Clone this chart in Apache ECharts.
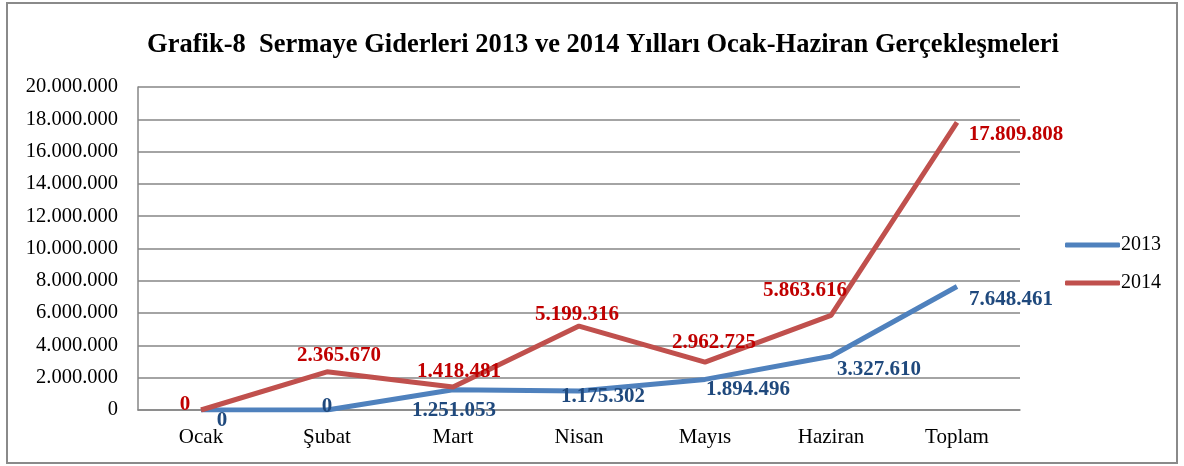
<!DOCTYPE html>
<html>
<head>
<meta charset="utf-8">
<script src="https://cdn.jsdelivr.net/npm/echarts@6/dist/echarts.min.js"></script>
<style>
html,body{margin:0;padding:0;background:#fff;}
#c{width:1184px;height:466px;}
</style>
</head>
<body>
<div id="c"></div>
<script>
const categories = ['Ocak', 'Şubat', 'Mart', 'Nisan', 'Mayıs', 'Haziran', 'Toplam'];
const values2013 = [0, 0, 1251053, 1175302, 1894496, 3327610, 7648461];
const values2014 = [0, 2365670, 1418481, 5199316, 2962725, 5863616, 17809808];
const seriesNames = ['2013', '2014'];
const titleText = 'Grafik-8  Sermaye Giderleri 2013 ve 2014 Yılları Ocak-Haziran Gerçekleşmeleri';

// label offsets (layout only)
const off2013 = [[21, 11], [0, -3], [1, 21], [24, 6], [43, 10], [48, 13], [54, 13]];
const off2014 = [[-16, -5], [12, -16], [6, -16], [-2, -11], [9, -20], [-26, -25], [59, 12]];

const FONT = "'Liberation Serif','Times New Roman',serif";
function fmt(v) {
  return String(Math.round(v)).replace(/\B(?=(\d{3})+(?!\d))/g, '.');
}
function buildData(vals, offs, color) {
  return vals.map((v, i) => ({
    value: v,
    label: {
      show: true,
      position: 'inside',
      offset: offs[i],
      color: color,
      fontFamily: FONT,
      fontWeight: 'bold',
      fontSize: 21,
      formatter: p => fmt(p.value)
    }
  }));
}

const chart = echarts.init(document.getElementById('c'), null, {renderer: 'canvas'});
chart.setOption({
  animation: false,
  backgroundColor: '#fff',
  title: {
    text: titleText,
    left: 598,
    textAlign: 'center',
    top: 27,
    textStyle: {fontFamily: FONT, fontWeight: 'bold', fontSize: 26.5, color: '#000'}
  },
  graphic: [{
    type: 'rect',
    shape: {x: 7, y: 3, width: 1170, height: 460},
    style: {fill: 'none', stroke: '#8a8a8a', lineWidth: 2},
    silent: true
  }],
  legend: {
    orient: 'vertical',
    left: 1060,
    top: 230,
    itemWidth: 55,
    itemHeight: 5,
    itemGap: 18,
    icon: 'roundRect',
    data: seriesNames,
    textStyle: {fontFamily: FONT, fontSize: 20, color: '#000', padding: [0, 0, 0, -4]}
  },
  grid: {left: 138, right: 164, top: 87, bottom: 56, containLabel: false},
  xAxis: {
    type: 'category',
    data: categories,
    boundaryGap: true,
    axisLine: {lineStyle: {color: '#868686', width: 1.5}},
    axisTick: {show: false},
    axisLabel: {fontFamily: FONT, fontSize: 21, color: '#000', margin: 17}
  },
  yAxis: {
    type: 'value',
    min: 0,
    max: 20000000,
    interval: 2000000,
    axisLine: {show: true, lineStyle: {color: '#868686', width: 1.5}},
    axisTick: {show: false},
    splitLine: {lineStyle: {color: '#868686', width: 1.5}},
    axisLabel: {fontFamily: FONT, fontSize: 20.5, color: '#000', margin: 20, formatter: v => fmt(v)}
  },
  series: [
    {
      name: seriesNames[0],
      type: 'line',
      data: buildData(values2013, off2013, '#1F497D'),
      symbol: 'circle',
      symbolSize: 0.1,
      itemStyle: {color: '#4F81BD'},
      lineStyle: {color: '#4F81BD', width: 5},
      z: 2
    },
    {
      name: seriesNames[1],
      type: 'line',
      data: buildData(values2014, off2014, '#C00000'),
      symbol: 'circle',
      symbolSize: 0.1,
      itemStyle: {color: '#C0504D'},
      lineStyle: {color: '#C0504D', width: 5},
      z: 3
    }
  ]
});
</script>
</body>
</html>
